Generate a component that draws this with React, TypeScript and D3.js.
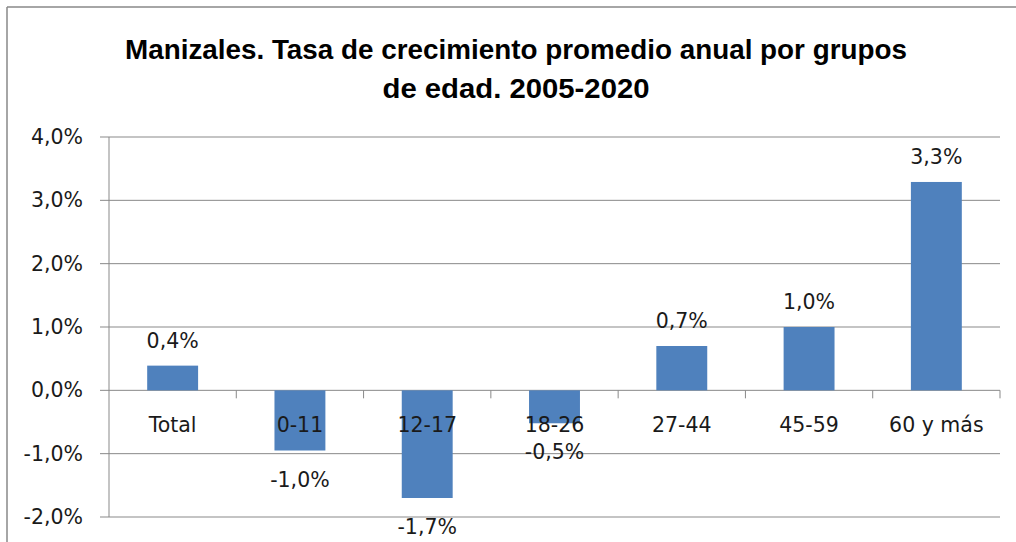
import React from "react";
import * as d3 from "d3";

const categories = ["Total", "0-11", "12-17", "18-26", "27-44", "45-59", "60 y más"];
const values = [0.39, -0.95, -1.7, -0.52, 0.7, 1.0, 3.29];
const valueLabels = ["0,4%", "-1,0%", "-1,7%", "-0,5%", "0,7%", "1,0%", "3,3%"];
const yTicks = [-2, -1, 0, 1, 2, 3, 4];
const titleLines = [
  "Manizales. Tasa de crecimiento promedio anual por grupos",
  "de edad. 2005-2020",
];

const W = 1016;
const H = 542;
const left = 109;
const right = 1000;
const top = 137;
const bottom = 517;

const fmtTick = (v: number) => d3.format(".1f")(v).replace(".", ",").replace("\u2212", "-") + "%";

export default function App() {
  const x = d3.scaleBand<string>().domain(categories).range([left, right]).paddingInner(0.6).paddingOuter(0.3);
  const band = d3.scaleBand<string>().domain(categories).range([left, right]);
  const y = d3.scaleLinear().domain([-2, 4]).range([bottom, top]);
  const font = "'DejaVu Sans', sans-serif";
  const grid = "#898989";
  return (
    <svg width={W} height={H} style={{ position: "absolute", left: 0, top: 0, background: "#fff" }}>
      <line x1={7} y1={7} x2={W} y2={7} stroke="#888" strokeWidth={1.5} />
      <line x1={7} y1={7} x2={7} y2={H} stroke="#888" strokeWidth={1.5} />
      <g fontFamily="'Liberation Sans', Arial, sans-serif" fontWeight="bold" fontSize={27} fill="#000" textAnchor="middle">
        <text x={516} y={59} textLength={782} lengthAdjust="spacingAndGlyphs">{titleLines[0]}</text>
        <text x={516} y={98} textLength={267} lengthAdjust="spacingAndGlyphs">{titleLines[1]}</text>
      </g>
      {yTicks.map((t) => (
        <g key={t}>
          <line x1={100} x2={right} y1={y(t)} y2={y(t)} stroke={grid} strokeWidth={1} />
          <text x={83} y={y(t) + 7} textAnchor="end" fontFamily={font} fontSize={20.5} fill="#1a1a1a">
            {fmtTick(t)}
          </text>
        </g>
      ))}
      <line x1={left} x2={left} y1={top} y2={bottom} stroke={grid} strokeWidth={1} />
      {categories.map((c) => (
        <line key={"t" + c} x1={band(c)! + band.bandwidth()} x2={band(c)! + band.bandwidth()} y1={y(0)} y2={y(0) + 8} stroke={grid} strokeWidth={1} />
      ))}
      {categories.map((c, i) => {
        const v = values[i];
        const y0 = y(Math.max(0, v));
        const y1 = y(Math.min(0, v));
        return (
          <rect key={"b" + c} x={x(c)} y={y0} width={x.bandwidth()} height={y1 - y0} fill="#4F81BD" />
        );
      })}
      {categories.map((c) => (
        <text key={"c" + c} x={band(c)! + band.bandwidth() / 2} y={432} textAnchor="middle" fontFamily={font} fontSize={20.5} fill="#1a1a1a">
          {c}
        </text>
      ))}
      {categories.map((c, i) => {
        const v = values[i];
        const ly = v >= 0 ? y(v) - 18 : y(v) + 36;
        return (
          <text key={"l" + c} x={band(c)! + band.bandwidth() / 2} y={ly} textAnchor="middle" fontFamily={font} fontSize={20.5} fill="#1a1a1a">
            {valueLabels[i]}
          </text>
        );
      })}
    </svg>
  );
}
